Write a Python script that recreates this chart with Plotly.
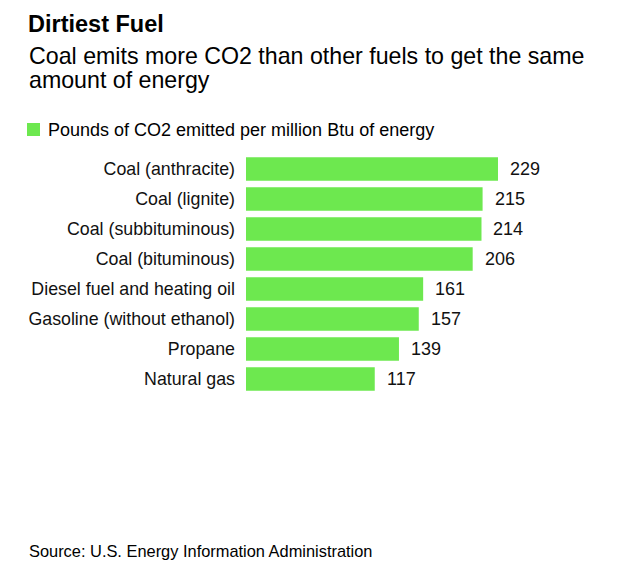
import plotly.graph_objects as go

categories = ["Coal (anthracite)", "Coal (lignite)", "Coal (subbituminous)", "Coal (bituminous)",
              "Diesel fuel and heating oil", "Gasoline (without ethanol)", "Propane", "Natural gas"]
values = [229, 215, 214, 206, 161, 157, 139, 117]
series_name = "Pounds of CO2 emitted per million Btu of energy"

W, H = 640, 579
L, R, T, B = 246, 130, 154, 185
FONT = "Liberation Sans, Arial, sans-serif"
GREEN = "#6de84f"

def py(y):
    # pixel y (from top) -> paper y
    return (H - B - y) / (H - T - B)

def px(x):
    return (x - L) / (W - L - R)

fig = go.Figure()
fig.add_trace(go.Bar(
    x=values, y=categories, orientation="h",
    marker=dict(color=GREEN, line=dict(width=0)),
    name=series_name, showlegend=False,
))

for c, v in zip(categories, values):
    fig.add_annotation(x=v, y=c, xref="x", yref="y", text=str(v), showarrow=False,
                       xanchor="left", xshift=10, font=dict(size=18, color="#111", family=FONT))

# header texts
fig.add_annotation(x=px(26), y=py(24), xref="paper", yref="paper", text="<b>Dirtiest Fuel</b>",
                   showarrow=False, xanchor="left", yanchor="middle",
                   font=dict(size=23.5, color="#000", family=FONT))
for txt, yy in [("Coal emits more CO2 than other fuels to get the same", 56),
                ("amount of energy", 80)]:
    fig.add_annotation(x=px(27), y=py(yy), xref="paper", yref="paper", text=txt,
                       showarrow=False, xanchor="left", yanchor="middle", align="left",
                       font=dict(size=23.2, color="#000", family=FONT))
# legend
fig.add_shape(type="rect", xref="paper", yref="paper", x0=px(27), x1=px(40), y0=py(123), y1=py(136),
              fillcolor=GREEN, line=dict(width=0))
fig.add_annotation(x=px(46), y=py(130), xref="paper", yref="paper", text=series_name,
                   showarrow=False, xanchor="left", yanchor="middle",
                   font=dict(size=18, color="#000", family=FONT))
# source
fig.add_annotation(x=px(27), y=py(551), xref="paper", yref="paper",
                   text="Source: U.S. Energy Information Administration",
                   showarrow=False, xanchor="left", yanchor="middle",
                   font=dict(size=16.4, color="#000", family=FONT))

fig.update_layout(
    width=W, height=H,
    margin=dict(l=L, r=R, t=T, b=B),
    paper_bgcolor="white", plot_bgcolor="white",
    bargap=0.22,
    xaxis=dict(range=[0, (W - L - R) / 1.1004], visible=False, fixedrange=True),
    yaxis=dict(autorange="reversed", showgrid=False, zeroline=False, showline=False,
               ticks="", ticklabelstandoff=10,
               tickfont=dict(size=17.8, color="#111", family=FONT)),
)

fig.write_html("out.html")
